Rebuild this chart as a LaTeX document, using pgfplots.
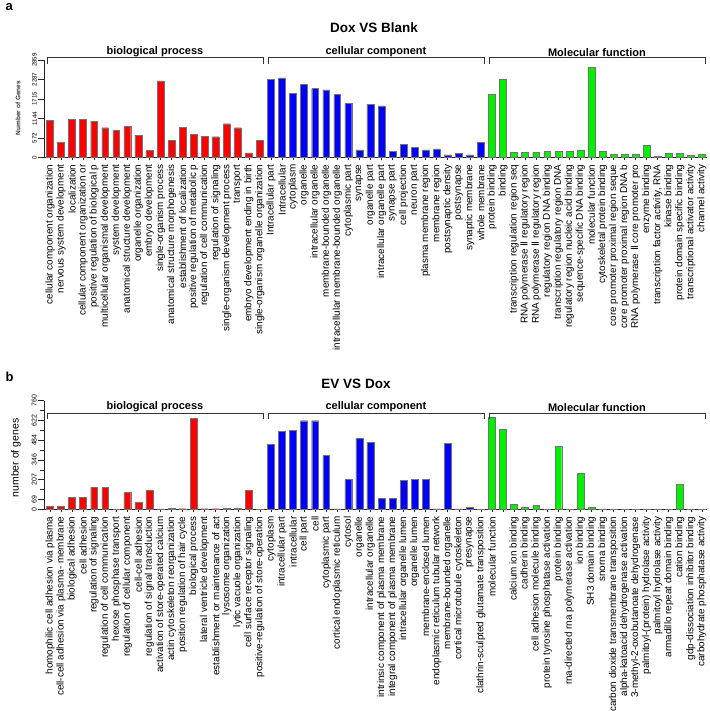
\documentclass[border=0pt]{standalone}
\usepackage{fontspec}
\setmainfont{Liberation Sans}
\newfontfamily\dejavu{DejaVu Sans}
\usepackage{pgfplots}
\pgfplotsset{compat=1.18}
\definecolor{gored}{RGB}{255,0,0}
\definecolor{goblue}{RGB}{0,0,255}
\definecolor{gogreen}{RGB}{0,240,0}
\newcommand{\RII}{{\dejavu Ⅱ}}

\pgfplotsset{
  gopanel/.style={
    scale only axis, width=663pt,
    xmin=-0.54, xmax=59.46, ymin=0,
    axis x line*=bottom, axis y line*=left,
    axis line style={line width=0.8pt, black!85},
    clip=false,
    tick align=outside,
    major tick length=6pt, minor tick length=4pt,
    tick style={line width=0.6pt, black!85},
    xtick={0,...,59},
    x tick style={/pgfplots/major tick length=3pt},
    xticklabel style={rotate=90, anchor=east, inner sep=1pt,
      font=\fontsize{9.9}{10}\selectfont},
    yticklabel style={rotate=90, anchor=south, inner sep=1pt},
  },
  gobar/.style={ybar, bar width=0.62, bar shift=0pt, draw=black!55, line width=0.4pt},
}
\tikzset{
  grouplabel/.style={font=\bfseries\fontsize{11}{12}\selectfont, anchor=south, inner sep=1pt},
  bracket/.style={line width=0.8pt, black!80},
}

\begin{document}
\begin{tikzpicture}
\useasboundingbox (0,0) rectangle (709pt,-711pt);

% ---------- panel a ----------
\node[font=\bfseries\fontsize{13}{14}\selectfont, anchor=west] at (2pt,-7pt) {a};
\node[font=\bfseries\fontsize{13.5}{14}\selectfont] at (374pt,-28pt) {Dox VS Blank};
\node[rotate=90, font=\bfseries\fontsize{6.5}{7}\selectfont, black!80] at (18pt,-108pt) {Number of Genes};

\begin{axis}[gopanel,
  at={(44pt,-157.3pt)}, anchor=south west, height=97.3pt,
  ymax=2859,
  ytick={0,572,1144,1715,2287,2859},
  yticklabels={0,572,1144,1715,2287,2859},
  minor y tick num=1,
  yticklabel style={font=\fontsize{6.2}{7}\selectfont},
  xticklabels={
    cellular component organization,
    nervous system development,
    localization,
    cellular component organization or,
    positive regulation of biological  p,
    multicellular organismal development,
    system development,
    anatomical structure development,
    organelle organization,
    embryo development,
    single-organism process,
    anatomical structure morphogenesis,
    establishment of localization,
    positive regulation of metabolic p,
    regulation of cell communication,
    regulation of signaling,
    single-organism development process,
    transport,
    embryo development ending in birth,
    single-organism organelle organization,
    Intracellular part,
    Intracellular,
    cytoplasm,
    organelle,
    intracellular organelle,
    membrane-bounded organelle,
    intracellular membrane-bounded organelle,
    cytoplasmic part,
    synapse,
    organelle part,
    intracellular organelle part,
    synapse part,
    cell projection,
    neuron part,
    plasma membrane region,
    membrane region,
    postsynaptic density,
    postsynapse,
    synaptic membrane,
    whole membrane,
    protein binding,
    binding,
    transcription regulation region seq,
    RNA polymerase \RII{} regulatory region,
    RNA polymerase \RII{} regulatory region,
    regulatory region DNA binding,
    transcription regulatory region DNA,
    regulatory region nucleic acid binding,
    sequence-specific DNA binding,
    molecular function,
    cytoskeletal protein binding,
    core promoter proximal region seque,
    core promoter proximal region DNA b,
    RNA polymerase \RII{} core promoter  pro,
    enzyme binding,
    {transcription factor activity, RNA},
    kinase binding,
    protein domain specific binding,
    transcriptional activator activity,
    channel activity},
]
\addplot[gobar, fill=gored] coordinates {
  (0,1093) (1,430) (2,1113) (3,1113) (4,1054) (5,869) (6,791) (7,918) (8,654) (9,195)
  (10,2245) (11,508) (12,888) (13,673) (14,615) (15,605) (16,986) (17,869) (18,127) (19,488)};
\addplot[gobar, fill=goblue] coordinates {
  (20,2294) (21,2333) (22,1884) (23,2138) (24,2020) (25,1981) (26,1855) (27,1591) (28,215) (29,1552)
  (30,1513) (31,176) (32,390) (33,293) (34,215) (35,244) (36,68) (37,107) (38,68) (39,439)};
\addplot[gobar, fill=gogreen] coordinates {
  (40,1855) (41,2304) (42,146) (43,137) (44,137) (45,176) (46,176) (47,176) (48,205) (49,2635)
  (50,176) (51,88) (52,88) (53,88) (54,351) (55,20) (56,117) (57,117) (58,49) (59,78)};
% group brackets
\draw[bracket] (axis cs:-0.25,2740) |- (axis cs:19.3,2925) -- (axis cs:19.3,2740);
\draw[bracket] (axis cs:19.75,2740) |- (axis cs:39.3,2925) -- (axis cs:39.3,2740);
\draw[bracket] (axis cs:39.75,2740) |- (axis cs:59.3,2925) -- (axis cs:59.3,2740);
\node[grouplabel] at (axis cs:9.5,2925) {biological process};
\node[grouplabel] at (axis cs:29.5,2925) {cellular component};
\node[grouplabel] at (axis cs:49.5,2925) {Molecular function};
\end{axis}

% ---------- panel b ----------
\node[font=\bfseries\fontsize{13}{14}\selectfont, anchor=west] at (2pt,-377pt) {b};
\node[font=\bfseries\fontsize{13.5}{14}\selectfont] at (356pt,-384pt) {EV VS Dox};
\node[rotate=90, font=\fontsize{10.5}{11}\selectfont] at (16pt,-458pt) {number of genes};

\begin{axis}[gopanel,
  at={(44pt,-509.3pt)}, anchor=south west, height=108.6pt,
  ymax=760,
  ytick={0,69,207,346,484,622,760},
  yticklabels={0,69,207,346,484,622,760},
  minor ytick={138,276,415,553,691},
  yticklabel style={font=\fontsize{7}{8}\selectfont},
  xticklabels={
    homophilic cell adhesion via plasma,
    cell-cell adhesion via plasma- membrane,
    biological adhesion,
    cell adhesion,
    regulation of signaling,
    regulation of cell communication,
    hexose phosphase transport,
    regulation of cellular component,
    cell-cell adhesion,
    regulation of signal transduction,
    activation of store-operated calcium,
    actin cytoskeleton reorganization,
    position regulation of hair cycle,
    biological process,
    lateral ventricle development,
    establishment or maintenance of act,
    lysosome organization,
    lytic vacuole organization,
    cell surface receptor signaling,
    positive-regulation of store-operation,
    cytoplasm,
    intracellular part,
    intracellular,
    cell part,
    cell,
    cytoplasmic part,
    cortical endoplasmic reticulum,
    cytosol,
    organelle,
    intracellular organelle,
    intrinsic component of plasma membrane,
    integral component of plasma membrane,
    intracellular organelle lumen,
    organelle lumen,
    membrane-enclosed lumen,
    endoplasmic reticulum tubular network,
    membrane-bounded organelle,
    cortical microtubule cytoskeleton,
    presynapse,
    clathrin-sculpted glutamate transposition,
    molecular function,
    {},
    calcium ion binding,
    cadherin binding,
    cell adhesion molecule binding,
    protein tyrosine phosphatase activation,
    protein binding,
    rna-directed rna polymerase activation,
    ion binding,
    SH3 domain binding,
    snorna binding,
    carbon dioxide transmembrane transposition,
    alpha-katoacid dehydrogenase activation,
    3-methyl-2-oxobutanoate dehydrogenase,
    palmitoyl-(protein)  hydrolase activity,
    palmitoyl hydrolase activity,
    armadillo repeat domain binding,
    cation binding,
    gdp-dissociation inhibitor binding,
    carbohydrate phosphatase activity},
]
\addplot[gobar, fill=gored] coordinates {
  (0,19) (1,21) (2,84) (3,84) (4,156) (5,156) (6,2) (7,117) (8,51) (9,135)
  (10,3) (11,7) (12,4) (13,637) (14,4) (15,4) (16,5) (17,5) (18,131) (19,2)};
\addplot[gobar, fill=goblue] coordinates {
  (20,457) (21,546) (22,555) (23,620) (24,620) (25,378) (26,3) (27,210) (28,499) (29,471)
  (30,79) (31,77) (32,205) (33,210) (34,210) (35,3) (36,460) (37,3) (38,14) (39,2)};
\addplot[gobar, fill=gogreen] coordinates {
  (40,644) (41,562) (42,37) (43,16) (44,26) (45,2) (46,443) (47,2) (48,252) (49,16)
  (50,3) (51,2) (52,2) (53,2) (54,3) (55,3) (56,2) (57,175) (58,2) (59,2)};
\draw[bracket] (axis cs:-0.25,630) |- (axis cs:19.3,672) -- (axis cs:19.3,630);
\draw[bracket] (axis cs:19.75,630) |- (axis cs:39.3,672) -- (axis cs:39.3,630);
\draw[bracket] (axis cs:39.75,630) |- (axis cs:59.3,672) -- (axis cs:59.3,630);
\node[grouplabel] at (axis cs:9.5,672) {biological process};
\node[grouplabel] at (axis cs:29.5,672) {cellular component};
\node[grouplabel] at (axis cs:49.5,672) {Molecular function};
\end{axis}
\end{tikzpicture}
\end{document}
